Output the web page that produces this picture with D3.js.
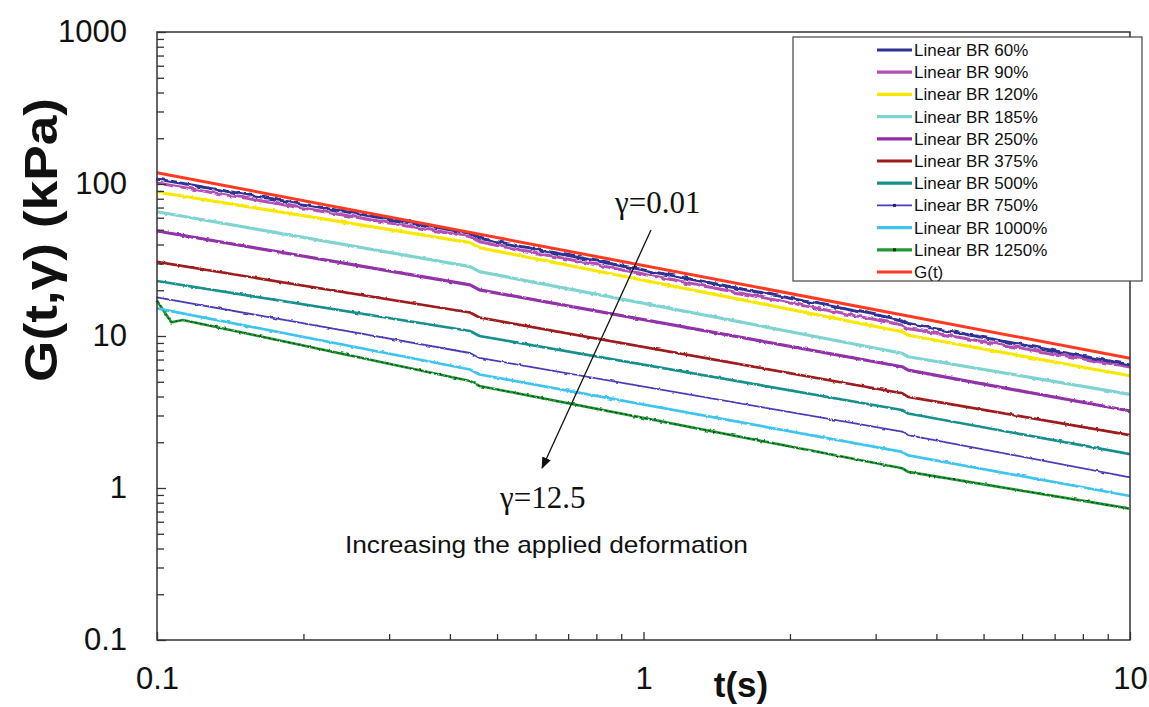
<!DOCTYPE html>
<html><head><meta charset="utf-8">
<script src="https://cdn.jsdelivr.net/npm/d3@7"></script>
<style>
body{margin:0;background:#fff;}
svg{display:block;font-family:"Liberation Sans",Arial,sans-serif;}
</style></head><body>
<svg id="c" width="1149" height="707"></svg>
<script>
// ---- data ----
const timeKnots = [0.1, 0.44, 0.46, 3.4, 3.5, 10];          // s
const br60   = [107.9, 47.4, 43.9, 12.75, 12.08, 6.45];       // kPa
const br90   = [101.5, 45.0, 41.7, 11.81, 11.20, 6.25];
const br120  = [88.6, 41.1, 38.1, 10.67, 10.12, 5.48];
const br185  = [65.7, 28.6, 26.5, 7.70, 7.30, 4.13];
const br250  = [49.1, 21.7, 20.1, 6.28, 5.96, 3.21];
const br375  = [30.7, 14.28, 13.23, 4.20, 3.98, 2.23];
const br500  = [23.0, 10.79, 10.0, 3.26, 3.09, 1.67];
const br750  = [17.97, 7.73, 7.17, 2.35, 2.23, 1.176];
const br1000 = [15.2, 6.02, 5.58, 1.73, 1.64, 0.886];
const br1250Times  = [0.1, 0.107, 0.113, 0.44, 0.46, 3.4, 3.5, 10];
const br1250 = [17.07, 12.31, 12.75, 5.06, 4.69, 1.348, 1.278, 0.731];
const gtTimes = [0.1, 10];
const gt     = [118.7, 7.13];

const seriesNames  = ["Linear BR 60%","Linear BR 90%","Linear BR 120%","Linear BR 185%","Linear BR 250%",
                      "Linear BR 375%","Linear BR 500%","Linear BR 750%","Linear BR 1000%","Linear BR 1250%","G(t)"];
const seriesColors = ["#2e3192","#b34fb3","#f7e800","#7fd3d1","#9030a8",
                      "#9e1b1e","#17908c","#4a3db5","#3ec4ef","#1f9a35","#ff3a22"];

const yTickValues = [0.1, 1, 10, 100, 1000];
const yTickLabels = ["0.1", "1", "10", "100", "1000"];
const xTickValues = [0.1, 1, 10];
const xTickLabels = ["0.1", "1", "10"];

// annotations in data coordinates
const arrowFrom = [1.036, 49.8], arrowTo = [0.619, 1.354];
const label001 = [0.874, 64.4], label125 = [0.507, 0.739], labelIncr = [0.2434, 0.3736];

// ---- chart ----
const series = [
  {t: timeKnots, v: br60}, {t: timeKnots, v: br90}, {t: timeKnots, v: br120}, {t: timeKnots, v: br185},
  {t: timeKnots, v: br250}, {t: timeKnots, v: br375}, {t: timeKnots, v: br500}, {t: timeKnots, v: br750},
  {t: timeKnots, v: br1000}, {t: br1250Times, v: br1250}, {t: gtTimes, v: gt}
].map((s, i) => ({name: seriesNames[i], color: seriesColors[i], pts: s.t.map((t, j) => [t, s.v[j]])}));

const L = 157, R = 1130, T = 32, B = 640;
const x = d3.scaleLog().domain([0.1, 10]).range([L, R]);
const y = d3.scaleLog().domain([0.1, 1000]).range([B, T]);
const svg = d3.select("#c");

const defs = svg.append("defs");
function rough(id, sc, fr){
  const f = defs.append("filter").attr("id", id).attr("filterUnits","userSpaceOnUse")
    .attr("x",0).attr("y",0).attr("width",1149).attr("height",707);
  f.append("feTurbulence").attr("type","fractalNoise").attr("baseFrequency",fr).attr("numOctaves",2).attr("seed",4).attr("result","n");
  f.append("feDisplacementMap").attr("in","SourceGraphic").attr("in2","n").attr("scale",sc)
    .attr("xChannelSelector","R").attr("yChannelSelector","G");
}
rough("r1", 2.4, "0.22"); rough("r2", 4.5, "0.12");
defs.append("marker").attr("id","ah").attr("viewBox","0 0 10 10").attr("refX",9).attr("refY",5)
  .attr("markerWidth",9).attr("markerHeight",9).attr("orient","auto")
  .append("path").attr("d","M0,1 L10,5 L0,9 Z").attr("fill","#111");

// lines
const line = d3.line().x(d => x(d[0])).y(d => y(d[1]));
const widths = [3, 3, 3.2, 3.2, 3.2, 2.7, 2.7, 1.8, 2.7, 2.7, 3];
const drawOrder = [9, 8, 7, 6, 5, 4, 3, 2, 1, 0, 10];
const gl = svg.append("g");
drawOrder.forEach(i => {
  const s = series[i];
  gl.append("path").attr("d", line(s.pts)).attr("fill","none").attr("stroke", s.color)
    .attr("stroke-width", widths[i]).attr("stroke-linejoin","round")
    .attr("filter", i === 10 ? null : (i <= 1 ? "url(#r2)" : "url(#r1)"));
  if (i === 9) {
    gl.append("path").attr("d", line(s.pts)).attr("fill","none").attr("stroke","#111")
      .attr("stroke-width", 1).attr("stroke-dasharray","2.5,2.5").attr("opacity",0.75).attr("filter","url(#r1)");
  }
});

// axes
const minorY = [];
[0.1, 1, 10, 100].forEach(d => { for (let k = 2; k <= 9; k++) minorY.push(d * k); });
const minorX = [];
[0.1, 1].forEach(d => { for (let k = 2; k <= 9; k++) minorX.push(d * k); });

function styleAxis(g){
  g.select(".domain").remove();
  g.selectAll("line").attr("stroke","#333").attr("stroke-width",1.3);
  g.selectAll("text").attr("font-family",'"Liberation Sans",Arial,sans-serif').attr("font-size",31).attr("fill","#111");
}
svg.append("g").attr("transform",`translate(${L},0)`)
  .call(d3.axisLeft(y).tickValues(yTickValues).tickSizeInner(-9).tickSizeOuter(0).tickPadding(30)
    .tickFormat((d, i) => yTickLabels[i])).call(styleAxis);
svg.append("g").attr("transform",`translate(${L},0)`)
  .call(d3.axisLeft(y).tickValues(minorY).tickSizeInner(-7).tickSizeOuter(0).tickFormat("")).call(styleAxis);
svg.append("g").attr("transform",`translate(0,${B})`)
  .call(d3.axisBottom(x).tickValues(xTickValues).tickSizeInner(-8).tickSizeOuter(0).tickPadding(27)
    .tickFormat((d, i) => xTickLabels[i])).call(styleAxis);
svg.append("g").attr("transform",`translate(0,${B})`)
  .call(d3.axisBottom(x).tickValues(minorX).tickSizeInner(-6).tickSizeOuter(0).tickFormat("")).call(styleAxis);

// frame
svg.append("rect").attr("x", L).attr("y", T).attr("width", R - L).attr("height", B - T)
  .attr("fill","none").attr("stroke","#333").attr("stroke-width",1.5);

// axis titles
svg.append("text").attr("transform","translate(57,240) rotate(-90)").attr("text-anchor","middle")
  .attr("font-weight","bold").attr("font-size",47).attr("fill","#111")
  .attr("textLength",284).attr("lengthAdjust","spacingAndGlyphs").text("G(t,γ) (kPa)");
svg.append("text").attr("x",741).attr("y",697).attr("text-anchor","middle")
  .attr("font-weight","bold").attr("font-size",35).attr("fill","#111").text("t(s)");

// annotations
svg.append("line").attr("x1", x(arrowFrom[0])).attr("y1", y(arrowFrom[1]))
  .attr("x2", x(arrowTo[0])).attr("y2", y(arrowTo[1]))
  .attr("stroke","#111").attr("stroke-width",1.3).attr("marker-end","url(#ah)");
svg.append("text").attr("x", x(label001[0])).attr("y", y(label001[1]))
  .attr("font-family",'"Liberation Serif","Times New Roman",serif').attr("font-size",31).attr("fill","#111").text("γ=0.01");
svg.append("text").attr("x", x(label125[0])).attr("y", y(label125[1]))
  .attr("font-family",'"Liberation Serif","Times New Roman",serif').attr("font-size",31).attr("fill","#111").text("γ=12.5");
svg.append("text").attr("x", x(labelIncr[0])).attr("y", y(labelIncr[1]))
  .attr("font-size",24).attr("fill","#111").attr("textLength",403).attr("lengthAdjust","spacingAndGlyphs")
  .text("Increasing the applied deformation");

// legend
const lg = svg.append("g");
lg.append("rect").attr("x",793).attr("y",37).attr("width",349).attr("height",244)
  .attr("fill","#fff").attr("stroke","#444").attr("stroke-width",1.2);
series.forEach((s, i) => {
  const yy = 50 + i * 22.2;
  lg.append("line").attr("x1",877).attr("x2",912).attr("y1",yy).attr("y2",yy)
    .attr("stroke", s.color).attr("stroke-width", i === 7 ? 1.6 : 3.2);
  if (i === 7 || i === 9) lg.append("rect").attr("x",893).attr("y",yy-1.5).attr("width",3).attr("height",3).attr("fill", i===7?"#222266":"#113311");
  lg.append("text").attr("x",914).attr("y",yy).attr("dy","0.35em").attr("font-size",17).attr("fill","#111").text(s.name);
});
</script>
</body></html>
